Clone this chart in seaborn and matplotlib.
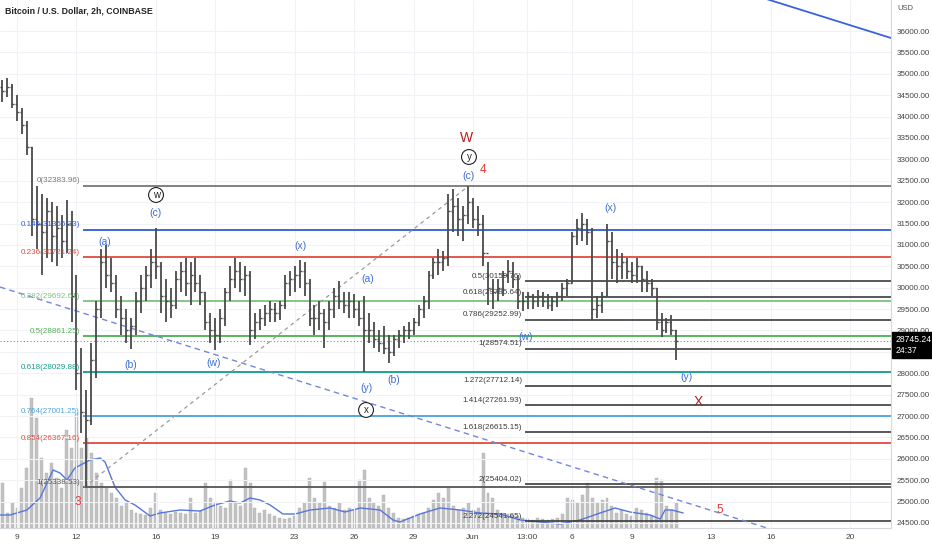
import numpy as np
import pandas as pd
import seaborn as sns
import matplotlib.pyplot as plt

# BTC/USD 2h chart, redrawn with 6h bars from 2022-05-08 06:00
bar_high = [34850, 34900, 34750, 34500, 34200, 33900, 33300, 32380, 32200, 32100,
            32000, 31900, 31700, 32050, 31800, 30300, 28600, 27600, 28700, 29700,
            30900, 31000, 30700, 30300, 29800, 29500, 29300, 29900, 30300, 30500,
            30900, 31400, 30600, 30200, 30000, 30400, 30600, 30700, 30600, 30700,
            30300, 29900, 29400, 29300, 29500, 30000, 30500, 30700, 30600, 30500,
            30400, 29400, 29500, 29600, 29700, 29650, 29700, 30300, 30400, 30500,
            30650, 30600, 30200, 29600, 29700, 29500, 29700, 30000, 30150, 29900,
            29900, 29850, 29700, 29800, 29400, 29200, 29000, 29100, 28900, 28900,
            29000, 29100, 29200, 29300, 29600, 29800, 30400, 30700, 30900, 30850,
            32200, 32300, 32100, 31900, 32384, 32100, 31900, 31700, 30600, 30200,
            30200, 30400, 30650, 30600, 30300, 29900, 29900, 29850, 29950, 29900,
            29850, 29800, 29900, 30100, 30200, 31300, 31600, 31750, 31600, 31400,
            29800, 29900, 31500, 31300, 30900, 30800, 30700, 30600, 30700, 30500,
            30400, 30200, 30000, 29400, 29300, 29350, 29000]
bar_low = [34350, 34450, 34200, 33900, 33600, 33100, 31200, 30900, 30300, 30700,
           30600, 30500, 30700, 30800, 29200, 27600, 26600, 25338.53, 26800, 27900,
           29300, 30000, 29900, 29300, 28900, 28700, 28560, 28900, 29400, 29700,
           30000, 30200, 29400, 29200, 29300, 29500, 29900, 29800, 29600, 29900,
           29600, 29000, 28700, 28550, 28700, 29100, 29700, 30000, 29900, 29800,
           28650, 28800, 29000, 29100, 29200, 29200, 29250, 29500, 29800, 29900,
           30000, 29800, 29100, 28900, 29000, 28600, 29000, 29300, 29500, 29400,
           29300, 29300, 29100, 28030, 28700, 28600, 28500, 28450, 28250, 28400,
           28600, 28700, 28800, 28900, 29100, 29300, 29500, 30200, 30300, 30400,
           30500, 31300, 31200, 31100, 31500, 31400, 31200, 30500, 29600, 29500,
           29700, 29800, 30100, 30000, 29500, 29450, 29500, 29500, 29550, 29550,
           29500, 29450, 29550, 29700, 29800, 30100, 31000, 31100, 31000, 29250,
           29300, 29400, 29800, 30200, 30100, 30200, 30200, 30100, 30100, 29900,
           29900, 29800, 29000, 28850, 28950, 28900, 28300]
bar_close = [34600, 34700, 34300, 34100, 33800, 33300, 31600, 31500, 31300, 31800,
             31200, 31400, 31100, 31500, 29800, 28000, 27100, 26900, 28300, 29500,
             30600, 30300, 30100, 29500, 29300, 29000, 29100, 29700, 30000, 30300,
             30600, 30500, 29800, 29700, 29600, 30200, 30400, 30100, 30300, 30100,
             29900, 29200, 29000, 28900, 29300, 29900, 30200, 30400, 30200, 30300,
             29000, 29200, 29300, 29400, 29500, 29400, 29600, 30100, 30200, 30300,
             30400, 30100, 29300, 29300, 29400, 29200, 29500, 29800, 29700, 29600,
             29700, 29500, 29300, 29000, 29000, 28800, 28700, 28600, 28500, 28800,
             28900, 29000, 29000, 29200, 29500, 29700, 30300, 30600, 30600, 30700,
             31800, 31900, 31600, 31700, 32000, 31600, 31500, 30800, 30000, 29900,
             30000, 30300, 30400, 30200, 29700, 29700, 29800, 29700, 29800, 29700,
             29600, 29700, 29800, 30000, 30100, 31200, 31400, 31500, 31300, 29500,
             29600, 29800, 31100, 30600, 30500, 30600, 30400, 30300, 30500, 30200,
             30100, 30000, 29200, 29000, 29200, 29000, 28745.24]
first_open = 34700
volume = [45, 15, 25, 20, 40, 60, 130, 110, 70, 55,
          65, 50, 40, 98, 80, 115, 80, 90, 75, 55,
          45, 40, 35, 30, 22, 25, 18, 15, 14, 13,
          20, 35, 18, 15, 14, 16, 15, 14, 30, 15,
          17, 45, 30, 25, 22, 20, 48, 25, 22, 60,
          45, 20, 15, 18, 14, 12, 10, 9, 10, 12,
          20, 25, 50, 30, 25, 46, 22, 20, 25, 18,
          20, 18, 48, 58, 30, 25, 22, 33, 20, 15,
          10, 9, 10, 12, 14, 15, 20, 28, 35, 30,
          40, 22, 18, 20, 25, 18, 20, 75, 35, 30,
          18, 15, 14, 13, 12, 10, 9, 8, 10, 9,
          8, 9, 10, 14, 30, 28, 25, 33, 45, 30,
          25, 28, 30, 22, 15, 18, 14, 12, 20, 18,
          15, 13, 50, 48, 22, 18, 25]

# volume moving average (days since May 9, value)
ma_day = [-0.86, -0.35, 0.5, 1.16, 1.82, 2.17, 2.52, 2.92, 3.68, 4.19, 4.44, 4.94,
          5.45, 5.95, 6.71, 7.21, 8.22, 9.23, 9.98, 10.74, 11.25, 11.75, 12.25,
          12.76, 13.41, 14.02, 14.78, 15.78, 16.54, 17.30, 18.31, 18.96, 19.31,
          20.32, 21.33, 22.34, 23.35, 24.36, 25.37, 26.37, 27.38, 28.39, 29.40,
          30.16, 30.91, 31.92, 32.43, 32.68, 33.03, 33.59]
ma_value = [13, 13, 18, 30, 58, 55, 48, 60, 68, 70, 66, 41,
            28, 23, 12, 15, 18, 17, 23, 27, 25, 30, 28,
            23, 14, 14, 18, 20, 16, 20, 18, 8, 6,
            14, 20, 18, 15, 14, 8, 6, 4, 8, 15,
            20, 16, 13, 9, 18, 18, 15]

# fib retracement on the May 12 low -> Jun 1 high
fib1_level = ["0", "0.146", "0.236", "0.382", "0.5", "0.618", "0.764", "0.854", "1"]
fib1_price = [32383.96, 31355.33, 30721.24, 29692.61, 28861.25, 28029.88, 27001.25, 26367.16, 25338.53]
# fib extension from Jun 1
fib2_level = ["0.5", "0.618", "0.786", "1", "1.272", "1.414", "1.618", "2", "2.272"]
fib2_price = [30159.76, 29785.64, 29252.99, 28574.51, 27712.14, 27261.93, 26615.15, 25404.02, 24541.65]
last_price = 28745.24

wave_text = ["W", "y", "(c)", "4", "w", "(c)", "(a)", "(b)", "(w)", "(x)", "(a)", "(y)",
             "x", "(b)", "(x)", "(w)", "(y)", "X", "3", "5"]
wave_day = [22.69, 22.79, 22.79, 23.5, 7.01, 6.96, 4.44, 5.75, 9.93, 14.27, 17.70, 17.60,
            17.60, 19.01, 29.95, 25.67, 33.74, 34.34, 3.08, 35.45]
wave_price = [33499, 33055, 32611, 32751, 32167, 31746, 31068, 28193, 28240, 30975, 30203, 27655,
              27141, 27842, 31863, 28847, 27912, 27328, 24990, 24803]
wave_kind = ["major", "circle", "minor", "impulse", "circle", "minor", "minor", "minor", "minor",
             "minor", "minor", "minor", "circle", "minor", "minor", "minor", "minor", "major",
             "impulse", "impulse"]

tick_day = [0, 3, 7, 10, 14, 17, 20, 23, 25.7, 28, 31, 35, 38, 42]
tick_label = ["9", "12", "16", "19", "23", "26", "29", "Jun", "13:00", "6", "9", "13", "16", "20"]

# lines drawn on the chart
trend_day = [-0.86, 37.97]
trend_price = [30016, 24360]
channel_day = [37.47, 44.07]
channel_price = [36795, 35837]
fib_anchor_day = [3.38, 22.79]

sns.set_style("white")
plt.rcParams["font.family"] = ["Liberation Sans", "DejaVu Sans"]

bar_time = pd.date_range("2022-05-08 06:00", periods=len(bar_close), freq="6h")
days = ((bar_time - pd.Timestamp("2022-05-09")) / pd.Timedelta("1D")).values
bar_open = [first_open] + bar_close[:-1]

fig = plt.figure(figsize=(9.32, 5.5), dpi=100)
ax = fig.add_axes([0, 0.04, 891 / 932, 0.96])
ax2 = ax.twinx()
ax.set_zorder(ax2.get_zorder() + 1)
ax.patch.set_visible(False)

# volume
ax2.bar(days, volume, width=0.15, color="#c2c2c2", edgecolor="#b0b0b0", linewidth=0.3)
sns.lineplot(x=ma_day, y=ma_value, ax=ax2, color="#5577dd", linewidth=1.0)
ax2.set_ylim(0, 528)
ax2.set_yticks([])
ax2.set_ylabel("")
for s in ax2.spines.values():
    s.set_visible(False)

# fib 1
fib1_color = ["#777777", "#2f5bd8", "#e04a3f", "#7cc47f", "#4caf50", "#119a8a", "#4aa3df", "#e04a3f", "#555555"]
for lv, pr, c in zip(fib1_level, fib1_price, fib1_color):
    ax.hlines(pr, 3.33, 45, color=c, lw=1.3, zorder=2)
    ax.text(3.18, pr + 110, f"{lv}({pr:.2f})", color=c, fontsize=5.8, ha="right", va="center", zorder=5)
# fib 2
for lv, pr in zip(fib2_level, fib2_price):
    ax.hlines(pr, 25.62, 45, color="#3c3c3c", lw=1.2, zorder=2)
    ax.text(25.47, pr + 110, f"{lv}({pr:.2f})", color="#3c3c3c", fontsize=5.8, ha="right", va="center", zorder=5)

ax.plot(fib_anchor_day, [fib1_price[-1], fib1_price[0]], ls=(0, (3, 3)), color="#9a9a9a", lw=0.9, zorder=2)
ax.plot(trend_day, trend_price, ls=(0, (4, 3)), color="#7387dd", lw=1.0, zorder=2)
ax.plot(channel_day, channel_price, color="#3a62d9", lw=1.3, zorder=2)
ax.axhline(last_price, ls=(0, (1, 2)), color="#8a8a8a", lw=0.8, zorder=2)

# OHLC bars
ax.vlines(days, bar_low, bar_high, color="#4a4a4a", lw=1.3, zorder=3)
ax.hlines(bar_open, days - 0.1, days, color="#4a4a4a", lw=1.0, zorder=3)
ax.hlines(bar_close, days, days + 0.1, color="#4a4a4a", lw=1.0, zorder=3)

# wave labels
for t, d, p, k in zip(wave_text, wave_day, wave_price, wave_kind):
    if k == "minor":
        ax.text(d, p, t, color="#3d6fd4", fontsize=7.5, ha="center", va="center", zorder=6)
    elif k == "major":
        ax.text(d, p, t, color="#b71c1c", fontsize=10, ha="center", va="center", zorder=6)
    elif k == "impulse":
        ax.text(d, p, t, color="#e53935", fontsize=8.5, ha="center", va="center", zorder=6)
    else:
        ax.text(d, p, t, color="#222222", fontsize=7, ha="center", va="center", zorder=6,
                bbox=dict(boxstyle="circle,pad=0.25", fc="white", ec="#222222", lw=0.8))

ax.set_xlim(-0.857, 44.07)
ax.set_ylim(24382, 36725)
ax.yaxis.tick_right()
yt = np.arange(24500, 36001, 500)
# 28500 sits under the last-price tag
ax.set_yticks(yt, ["" if v == 28500 else f"{v:.2f}" for v in yt])
ax.set_xticks(tick_day, tick_label)
ax.tick_params(axis="y", length=0, pad=4, labelsize=5.8, labelcolor="#444444")
ax.tick_params(axis="x", length=0, pad=4, labelsize=6, labelcolor="#444444")
ax.grid(True, color="#f1f2f5", lw=0.8)
ax.set_axisbelow(True)
for side in ["top", "left"]:
    ax.spines[side].set_visible(False)
for side in ["right", "bottom"]:
    ax.spines[side].set_color("#d6d8dd")
    ax.spines[side].set_linewidth(0.8)

fig.text(5 / 932, 1 - 11 / 550, "Bitcoin / U.S. Dollar, 2h, COINBASE", fontsize=6.3,
         color="#222222", ha="left", va="center", fontweight="bold")
fig.text(897 / 932, 1 - 9 / 550, "USD", fontsize=5.5, color="#555555", ha="left", va="center")
fig.text(896 / 932, 1 - 345 / 550, "28745.24\n24:37", fontsize=6.2, color="white",
         ha="left", va="center", linespacing=1.15,
         bbox=dict(boxstyle="square,pad=0.45", fc="black", ec="black"))

fig.savefig("out.png", dpi=100)
